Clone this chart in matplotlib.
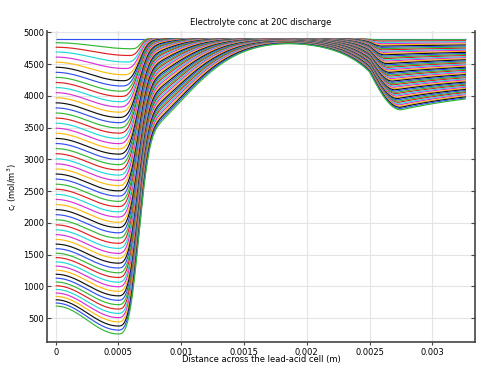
import numpy as np
import matplotlib
matplotlib.use("Agg")
import matplotlib.pyplot as plt

# ---- data (mol/m^3) ----
C0 = 4900.0          # initial electrolyte concentration (flat top curve)
X_END = 0.003268     # cell length (m)

# value of each curve at x = 0
left_start = [4900, 4836, 4765, 4690, 4610, 4530, 4450, 4370, 4290, 4210,
              4130, 4050, 3970, 3890, 3810, 3730, 3650, 3570, 3490, 3410,
              3330, 3250, 3170, 3090, 3010, 2930, 2850, 2770, 2690, 2610,
              2530, 2450, 2370, 2290, 2210, 2130, 2050, 1970, 1892, 1816,
              1741, 1667, 1595, 1524, 1455, 1387, 1321, 1256, 1193, 1131,
              1071, 1012, 954, 898, 844, 791, 740, 693]
# minimum of each curve in the left electrode (near x = 0.0005)
left_min = [4900, 4741, 4635, 4532, 4430, 4332, 4238, 4155, 4073, 3990,
            3908, 3825, 3743, 3660, 3578, 3495, 3413, 3330, 3248, 3165,
            3083, 3000, 2918, 2835, 2753, 2670, 2588, 2505, 2423, 2340,
            2258, 2175, 2093, 2010, 1928, 1845, 1763, 1680, 1600, 1521,
            1444, 1367, 1291, 1216, 1142, 1068, 996, 924, 853, 783,
            714, 645, 577, 510, 444, 378, 314, 253]
# value of each curve at the right end of the cell
right_end = [4900, 4883, 4867, 4850, 4833, 4817, 4800, 4783, 4767, 4750,
             4733, 4717, 4700, 4684, 4667, 4650, 4634, 4617, 4600, 4584,
             4567, 4550, 4534, 4517, 4500, 4484, 4467, 4450, 4434, 4417,
             4400, 4384, 4367, 4351, 4334, 4317, 4301, 4284, 4267, 4251,
             4234, 4217, 4201, 4184, 4167, 4151, 4134, 4117, 4101, 4084,
             4067, 4051, 4034, 4017, 4001, 3984, 3968, 3951]
# minimum of each curve in the right electrode (near x = 0.0027)
right_min = [4900, 4880, 4861, 4841, 4821, 4802, 4782, 4762, 4743, 4723,
             4703, 4684, 4664, 4645, 4625, 4605, 4586, 4566, 4546, 4527,
             4507, 4487, 4468, 4448, 4428, 4409, 4389, 4369, 4350, 4330,
             4310, 4291, 4271, 4252, 4232, 4212, 4193, 4173, 4153, 4134,
             4114, 4094, 4075, 4055, 4035, 4016, 3996, 3976, 3957, 3937,
             3917, 3898, 3878, 3858, 3839, 3819, 3800, 3780]

xticks = [0, 0.0005, 0.001, 0.0015, 0.002, 0.0025, 0.003]
xtick_labels = ["0", "0.0005", "0.001", "0.0015", "0.002", "0.0025", "0.003"]
yticks = [500, 1000, 1500, 2000, 2500, 3000, 3500, 4000, 4500, 5000]

colors = ["#3050f0", "#33b833", "#e02020", "#20d8d8", "#d830d8", "#ffbb10", "#101010"]

# ---- profile shape of each time step ----
X_FRONT = 0.000686
X_SEP_END = 0.0025


def profile(i, x):
    n = len(left_start)
    s = i / (n - 1)
    a, m = left_start[i], left_min[i]
    e, rm = right_end[i], right_min[i]
    if s == 0:
        return np.full_like(x, C0)
    d = a - m
    xm = 0.0005 + 0.00013 * (1 - s) ** 12
    D = C0 - m
    DL = np.empty_like(x)
    lm = x <= xm
    DL[lm] = C0 - (a - d * (1 - np.cos(np.pi * x[lm] / xm)) / 2)
    dx = x[~lm] - xm
    w = X_FRONT - xm
    F = np.exp(-(dx / w) ** 3)
    f = 0.36 * np.sqrt(s)
    L = 0.00068 * np.sqrt(s)
    E = np.exp(-(dx / L) ** 2)
    DL[~lm] = D * ((1 - f) * F + f * E)

    Eend = C0 - e
    Q = C0 - rm
    P = 0.55 * Eend
    xr = 0.00258 + 0.00017 * s
    Lr = 0.00027 * np.sqrt(s)
    DR = np.empty_like(x)
    r1 = x < X_SEP_END
    r2 = (x >= X_SEP_END) & (x < xr)
    r3 = x >= xr
    DR[r1] = P * np.exp(-(X_SEP_END - x[r1]) / Lr)
    DR[r2] = P + (Q - P) * np.sin(np.pi / 2 * (x[r2] - X_SEP_END) / (xr - X_SEP_END))
    u = (x[r3] - xr) / (X_END - xr)
    DR[r3] = Q - (Q - Eend) * u * (1.3 - 0.3 * u)
    return C0 - DL - DR


x = np.linspace(0, X_END, 900)

fig = plt.figure(figsize=(4.84, 3.71), dpi=100)
ax = fig.add_axes([0.0971, 0.0774, 0.8843, 0.839])

for i in range(len(left_start)):
    ax.plot(x, profile(i, x), color=colors[i % len(colors)], lw=0.85,
            solid_capstyle="butt")

ax.set_xlim(-6.9e-5, 0.00334)
ax.set_ylim(122, 5020)
ax.set_xticks(xticks)
ax.set_xticklabels(xtick_labels)
ax.set_yticks(yticks)
ax.grid(True, color="#e4e4e4", lw=0.8)
ax.set_axisbelow(True)

for side in ["left", "bottom", "right"]:
    ax.spines[side].set_color("#444444")
    ax.spines[side].set_linewidth(1.2)
ax.spines["top"].set_visible(False)
ax.tick_params(axis="both", labelsize=6, length=3, width=0.8, color="#444444", pad=2)
ax.tick_params(axis="x", direction="out", length=2.5, pad=1.5)
ax.tick_params(axis="y", right=True, direction="in")

# inward ticks along the top edge (no spine there)
top = ax.secondary_xaxis("top")
top.set_xticks(xticks)
top.tick_params(direction="in", length=3, width=0.8, color="#444444", labeltop=False)
top.spines["top"].set_visible(False)

ax.set_title("Electrolyte conc at 20C discharge", fontsize=6, pad=4)
ax.set_xlabel("Distance across the lead-acid cell (m)", fontsize=6, labelpad=-1)
ax.set_ylabel("c$_l$ (mol/m$^3$)", fontsize=6, labelpad=3)

fig.savefig("out.png", dpi=100)
